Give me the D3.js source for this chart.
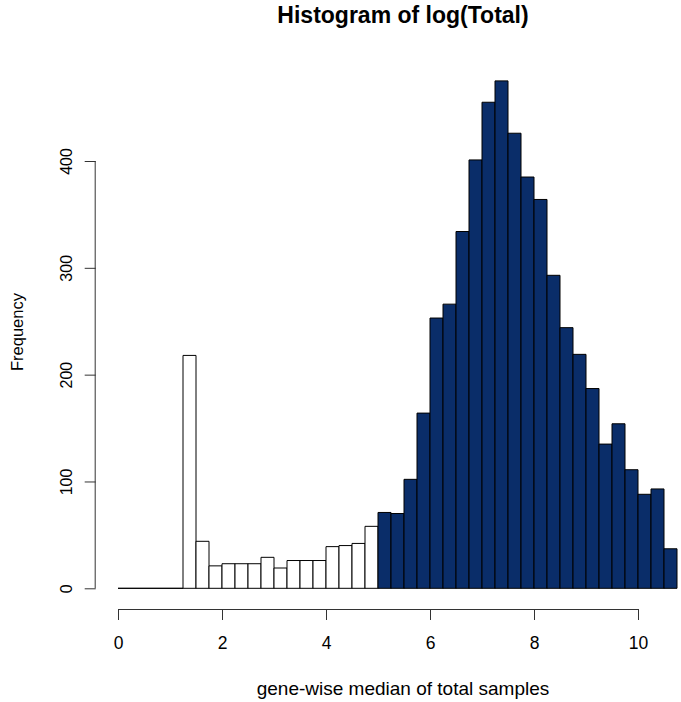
<!DOCTYPE html>
<meta charset="utf-8">
<style>
  body { margin: 0; background: #fff; }
  text { font-family: "Liberation Sans", Arial, Helvetica, sans-serif; fill: #000; }
</style>
<body>
<script src="https://cdn.jsdelivr.net/npm/d3@7"></script>
<script>

 // histogram of log(Total), bins of 0.25 starting at 0
 var binStart = 0;
 var binWidth = 0.25;
 var counts = [0, 0, 0, 0, 0,
               218, 44, 21, 23, 23, 23, 29, 19, 26, 26, 26, 39, 40, 42, 58,
               71, 70, 102, 164, 253, 266, 334, 401, 455, 475, 426, 385,
               364, 293, 244, 219, 187, 135, 154, 111, 88, 93, 37];
 var cutoff = 5;   // bins from here on are filled
 var xTicks = [0, 2, 4, 6, 8, 10];
 var yTicks = [0, 100, 200, 300, 400];

 var titleText = "Histogram of log(Total)";
 var xLabel = "gene-wise median of total samples";
 var yLabel = "Frequency";

 var width = 681, height = 702;

 var bins = counts.map((c, i) => ({
     x0: binStart + i*binWidth,
     x1: binStart + (i+1)*binWidth,
     count: c
 }));

 var x = d3.scaleLinear()
           .domain([0, 10])
           .range([118, 638]);

 var y = d3.scaleLinear()
           .domain([0, 400])
           .range([588.3, 161]);

 const svg = d3.select('body').append('svg')
               .attr('width', width)
               .attr('height', height);

 // bars as closed paths so that empty bins still show as a line on the baseline
 svg.append('g')
    .selectAll('path')
    .data(bins)
    .enter()
    .append('path')
    .attr('d', d => {
        var p = d3.path();
        p.moveTo(x(d.x0), y(0));
        p.lineTo(x(d.x0), y(d.count));
        p.lineTo(x(d.x1), y(d.count));
        p.lineTo(x(d.x1), y(0));
        p.closePath();
        return p.toString();
    })
    .attr('fill', d => d.x0 >= cutoff ? '#0a2d69' : '#fff')
    .attr('stroke', '#000')
    .attr('stroke-width', 1);

 // x axis, R style: detached below the plot
 var xAxisG = svg.append('g')
                 .attr('transform', 'translate(0,609)')
                 .call(d3.axisBottom(x).tickValues(xTicks).tickSize(11).tickPadding(17)
                         .tickFormat(d3.format('d')));
 xAxisG.select('.domain').attr('stroke', '#333').attr('d', 'M' + x(0) + ',0.5H' + x(10));
 xAxisG.selectAll('.tick line').attr('stroke', '#333');
 xAxisG.selectAll('.tick text')
       .attr('font-size', '17.5px')
       .attr('font-family', '"Liberation Sans", Arial, sans-serif')
       .attr('fill', '#000');

 // y axis, labels rotated like R's default las=0
 var yAxisG = svg.append('g')
                 .attr('transform', 'translate(95.7,0)')
                 .call(d3.axisLeft(y).tickValues(yTicks).tickSize(11).tickFormat(d3.format('d')));
 yAxisG.select('.domain').attr('stroke', '#333').attr('d', 'M-0.5,' + y(0) + 'V' + y(400));
 yAxisG.selectAll('.tick line').attr('stroke', '#333');
 yAxisG.selectAll('.tick text')
       .attr('x', null)
       .attr('dy', null)
       .attr('text-anchor', 'middle')
       .attr('font-size', '16px')
       .attr('font-family', '"Liberation Sans", Arial, sans-serif')
       .attr('fill', '#000')
       .attr('transform', 'translate(-24,0) rotate(-90)');

 // titles
 svg.append('text')
    .attr('x', 403)
    .attr('y', 23)
    .attr('text-anchor', 'middle')
    .attr('font-size', '23px')
    .attr('font-weight', 'bold')
    .text(titleText);

 svg.append('text')
    .attr('x', 403)
    .attr('y', 695)
    .attr('text-anchor', 'middle')
    .attr('font-size', '19px')
    .text(xLabel);

 svg.append('text')
    .attr('transform', 'translate(22.7,332) rotate(-90)')
    .attr('text-anchor', 'middle')
    .attr('font-size', '16.5px')
    .text(yLabel);

</script>
</body>
